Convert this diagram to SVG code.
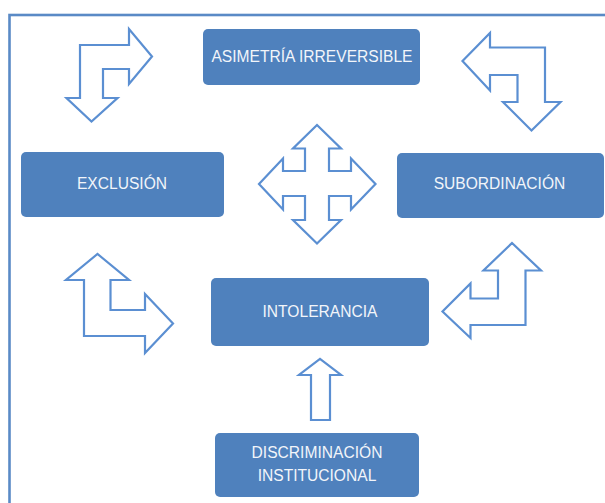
<svg xmlns="http://www.w3.org/2000/svg" width="605" height="503" viewBox="0 0 605 503">
<style>
.box{fill:#4f81bd;}
.lbl{font-family:"Liberation Sans",Arial,sans-serif;font-size:15.6px;fill:#f2f5fa;text-anchor:middle;}
.arr{fill:#ffffff;stroke:#5b8fd2;stroke-width:2.2;stroke-linejoin:miter;}
</style>
<rect width="605" height="503" fill="#ffffff"/>
<rect x="9.5" y="15" width="620" height="520" fill="none" stroke="#5a8ac6" stroke-width="2.6"/>
<g id="connectors">
<polygon class="arr" points="80,45 129,45 129,29 152,56.5 129,84 129,69 103,69 103,98 117.5,98 91.5,121.5 66.5,98 80,98"/>
<polygon class="arr" points="545,47.5 490,47.5 490,33 462.5,61 490,90.5 490,75 517.5,75 517.5,102 503,102 531.5,130.5 560.5,102 545,102"/>
<polygon class="arr" points="317,125 341,148.5 329,148.5 329,171 351,171 351,158.5 375.5,184 351,209.5 351,196 329,196 329,220 341,220 317,243.5 293,220 305,220 305,196 283,196 283,209.5 259,184 283,158.5 283,171 305,171 305,148.5 293,148.5"/>
<polygon class="arr" points="84,336 84,280 66,280 97.5,254 129,280 110.5,280 110.5,310 145,310 145,294 173,323.5 145,353 145,336"/>
<polygon class="arr" points="525.5,325 470.5,325 470.5,338 442.5,311.5 470.5,283.5 470.5,298.5 498,298.5 498,270.5 483.5,270.5 512,243 541,270.5 525.5,270.5"/>
<polygon class="arr" points="311,420 311,375 299,375 320,359 341,375 330,375 330,420"/>
</g>
<g id="n-asimetria">
<rect class="box" x="203" y="29" width="217" height="56" rx="5"/>
<text class="lbl" x="312" y="62">ASIMETRÍA IRREVERSIBLE</text>
</g>
<g id="n-exclusion">
<rect class="box" x="21" y="152" width="203" height="65" rx="5"/>
<text class="lbl" x="122" y="188.5">EXCLUSIÓN</text>
</g>
<g id="n-subordinacion">
<rect class="box" x="397" y="153" width="207" height="65" rx="5"/>
<text class="lbl" x="499.5" y="189">SUBORDINACIÓN</text>
</g>
<g id="n-intolerancia">
<rect class="box" x="211" y="278" width="218" height="68" rx="5"/>
<text class="lbl" x="320" y="316.5">INTOLERANCIA</text>
</g>
<g id="n-discriminacion">
<rect class="box" x="215" y="433" width="204" height="64" rx="5"/>
<text class="lbl" x="317" y="457.5">DISCRIMINACIÓN</text>
<text class="lbl" x="317" y="480.5">INSTITUCIONAL</text>
</g>
</svg>
